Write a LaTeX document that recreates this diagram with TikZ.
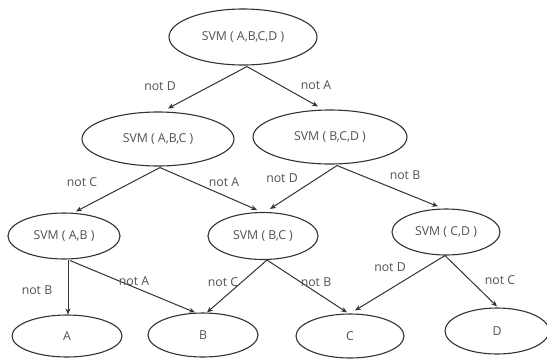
\documentclass[tikz,border=0pt]{standalone}
\usepackage{fontspec}
\setmainfont{Open Sans}
\usetikzlibrary{calc,arrows.meta,shapes.geometric}
\tikzset{
  ell/.style 2 args={ellipse,draw=black!80,line width=1.1pt,inner sep=0pt,
    minimum width=#1,minimum height=#2,text=black!68,font=\fontsize{12.3}{14}\selectfont},
  lbl/.style={text=black!68,font=\fontsize{12.3}{14}\selectfont,inner sep=0pt},
  arr/.style={draw=black!80,line width=1pt,-{Stealth[length=6pt,width=5pt]}}
}
\begin{document}
\begin{tikzpicture}[x=1pt,y=-1pt]
\useasboundingbox[fill=white] (0,0) rectangle (547,360);
% nodes
\node[ell={148pt}{56pt}] (top) at (243,37) {SVM ( A,B,C,D )};
\node[ell={152pt}{54pt}] (abc) at (158,139) {SVM ( A,B,C )};
\node[ell={154pt}{54pt}] (bcd) at (330,137) {SVM ( B,C,D )};
\node[ell={112pt}{46pt}] (ab) at (64,236) {SVM ( A,B )};
\node[ell={110pt}{47pt}] (bc) at (263,236) {SVM ( B,C )};
\node[ell={108pt}{46pt}] (cd) at (446,232) {SVM ( C,D )};
\node[ell={110pt}{42pt}] (A) at (67,336) {A};
\node[ell={110pt}{44pt}] (B) at (203,335) {B};
\node[ell={108pt}{44pt}] (C) at (350,336) {C};
\node[ell={104pt}{46pt}] (D) at (497,331) {D};
% edges
\draw[arr] ($(top.south)+(4,1)$) -- ($(abc.north)+(10,-3)$);
\draw[arr] ($(top.south)+(4,1)$) -- ($(bcd.north)+(-12,-3)$);
\draw[arr] ($(abc.south)+(2,1)$) -- ($(ab.north)+(12,-1)$);
\draw[arr] ($(abc.south)+(2,1)$) -- ($(bc.north)+(-6,-2)$);
\draw[arr] ($(bcd.south)+(7,1)$) -- ($(bc.north)+(7,-3)$);
\draw[arr] ($(bcd.south)+(7,1)$) -- ($(cd.north)+(-8,-2)$);
\draw[arr] ($(ab.south)+(4,0)$) -- ($(A.north)+(1,0)$);
\draw[arr] ($(ab.south)+(6,1)$) -- ($(B.north)+(-8,0)$);
\draw[arr] ($(bc.south)+(4,0)$) -- ($(B.north)+(4,0)$);
\draw[arr] ($(bc.south)+(4,0)$) -- ($(C.north)+(-3,-1)$);
\draw[arr] ($(cd.south)+(-1,0)$) -- ($(C.north)+(5,-3)$);
\draw[arr] ($(cd.south)+(-1,0)$) -- ($(D.north)+(0,-1)$);
% labels
\node[lbl] (l1) at (160,86) {not D};
\node[lbl] (l2) at (316,85) {not A};
\node[lbl] (l3) at (82,182) {not C};
\node[lbl] (l4) at (224,182) {not A};
\node[lbl] (l5) at (282,178) {not D};
\node[lbl] (l6) at (405,175) {not B};
\node[lbl] (l7) at (37,290) {not B};
\node[lbl] (l8) at (134,281) {not A};
\node[lbl] (l9) at (223,282) {not C};
\node[lbl] (l10) at (316,282) {not B};
\node[lbl] (l11) at (390,267) {not D};
\node[lbl] (l12) at (500,280) {not C};
\end{tikzpicture}
\end{document}
